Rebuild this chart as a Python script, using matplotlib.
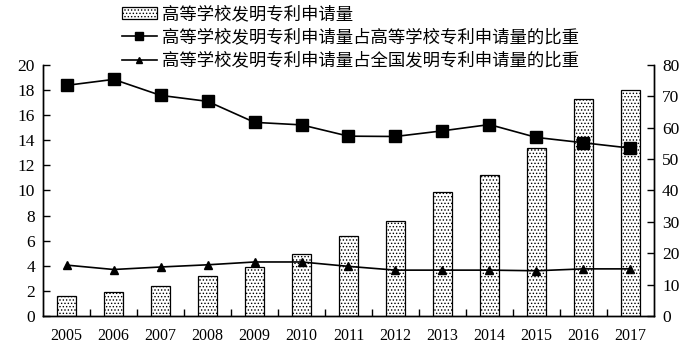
import matplotlib.pyplot as plt
import numpy as np

plt.rcParams['font.family'] = ['Liberation Serif', 'Noto Sans CJK SC']
plt.rcParams['hatch.linewidth'] = 0.6

# data
years = ['2005', '2006', '2007', '2008', '2009', '2010', '2011',
         '2012', '2013', '2014', '2015', '2016', '2017']
applications = [1.6, 1.9, 2.4, 3.2, 3.9, 4.9, 6.4, 7.6, 9.9, 11.2, 13.4, 17.3, 18.0]
share_of_univ = [73.5, 75.4, 70.3, 68.4, 61.7, 60.9, 57.3, 57.2, 59.0, 61.0, 56.9, 55.2, 53.5]
share_of_nation = [16.2, 14.8, 15.6, 16.3, 17.2, 17.2, 15.8, 14.6, 14.6, 14.6, 14.4, 15.0, 15.0]

label_bar = '高等学校发明专利申请量'
label_sq = '高等学校发明专利申请量占高等学校专利申请量的比重'
label_tri = '高等学校发明专利申请量占全国发明专利申请量的比重'

fig = plt.figure(figsize=(6.97, 3.53), dpi=100)
ax = fig.add_axes([0.062, 0.105, 0.876, 0.711])
ax2 = ax.twinx()

x = np.arange(len(years))
bars = ax.bar(x, applications, width=0.41, color='white', edgecolor='black',
              linewidth=0.9, hatch='.....', label=label_bar, zorder=2)
l1, = ax2.plot(x, share_of_univ, color='black', marker='s', markersize=8,
               linewidth=1.2, label=label_sq)
l2, = ax2.plot(x, share_of_nation, color='black', marker='^', markersize=6,
               linewidth=1.2, label=label_tri)

ax.set_xlim(-0.5, len(years) - 0.5)
ax.set_ylim(0, 20)
ax2.set_ylim(0, 80)
ax.set_yticks(np.arange(0, 21, 2))
ax2.set_yticks(np.arange(0, 81, 10))
ax.set_xticks(x)
ax.set_xticklabels(years)
ax.set_xticks(np.arange(0.5, len(years) - 1, 1), minor=True)
ax.tick_params(axis='x', which='major', length=0, pad=9, labelsize=11.5)
ax.tick_params(axis='x', which='minor', direction='in', length=5, width=1)
ax.tick_params(axis='y', direction='in', length=5, width=1, labelsize=12.5, pad=6)
ax2.tick_params(axis='y', direction='in', length=5, width=1, labelsize=12.5, pad=6)

for a in (ax, ax2):
    a.spines['top'].set_visible(False)
    for s in a.spines.values():
        s.set_linewidth(1.0)

fig.legend(handles=[bars, l1, l2], loc='upper left', bbox_to_anchor=(0.165, 1.005),
           frameon=False, handlelength=2.0, handletextpad=0.3, markerscale=0.8,
           labelspacing=0.3, borderaxespad=0,
           prop={'family': 'Noto Sans CJK SC', 'size': 12.5})

fig.savefig('out.png', dpi=100)
